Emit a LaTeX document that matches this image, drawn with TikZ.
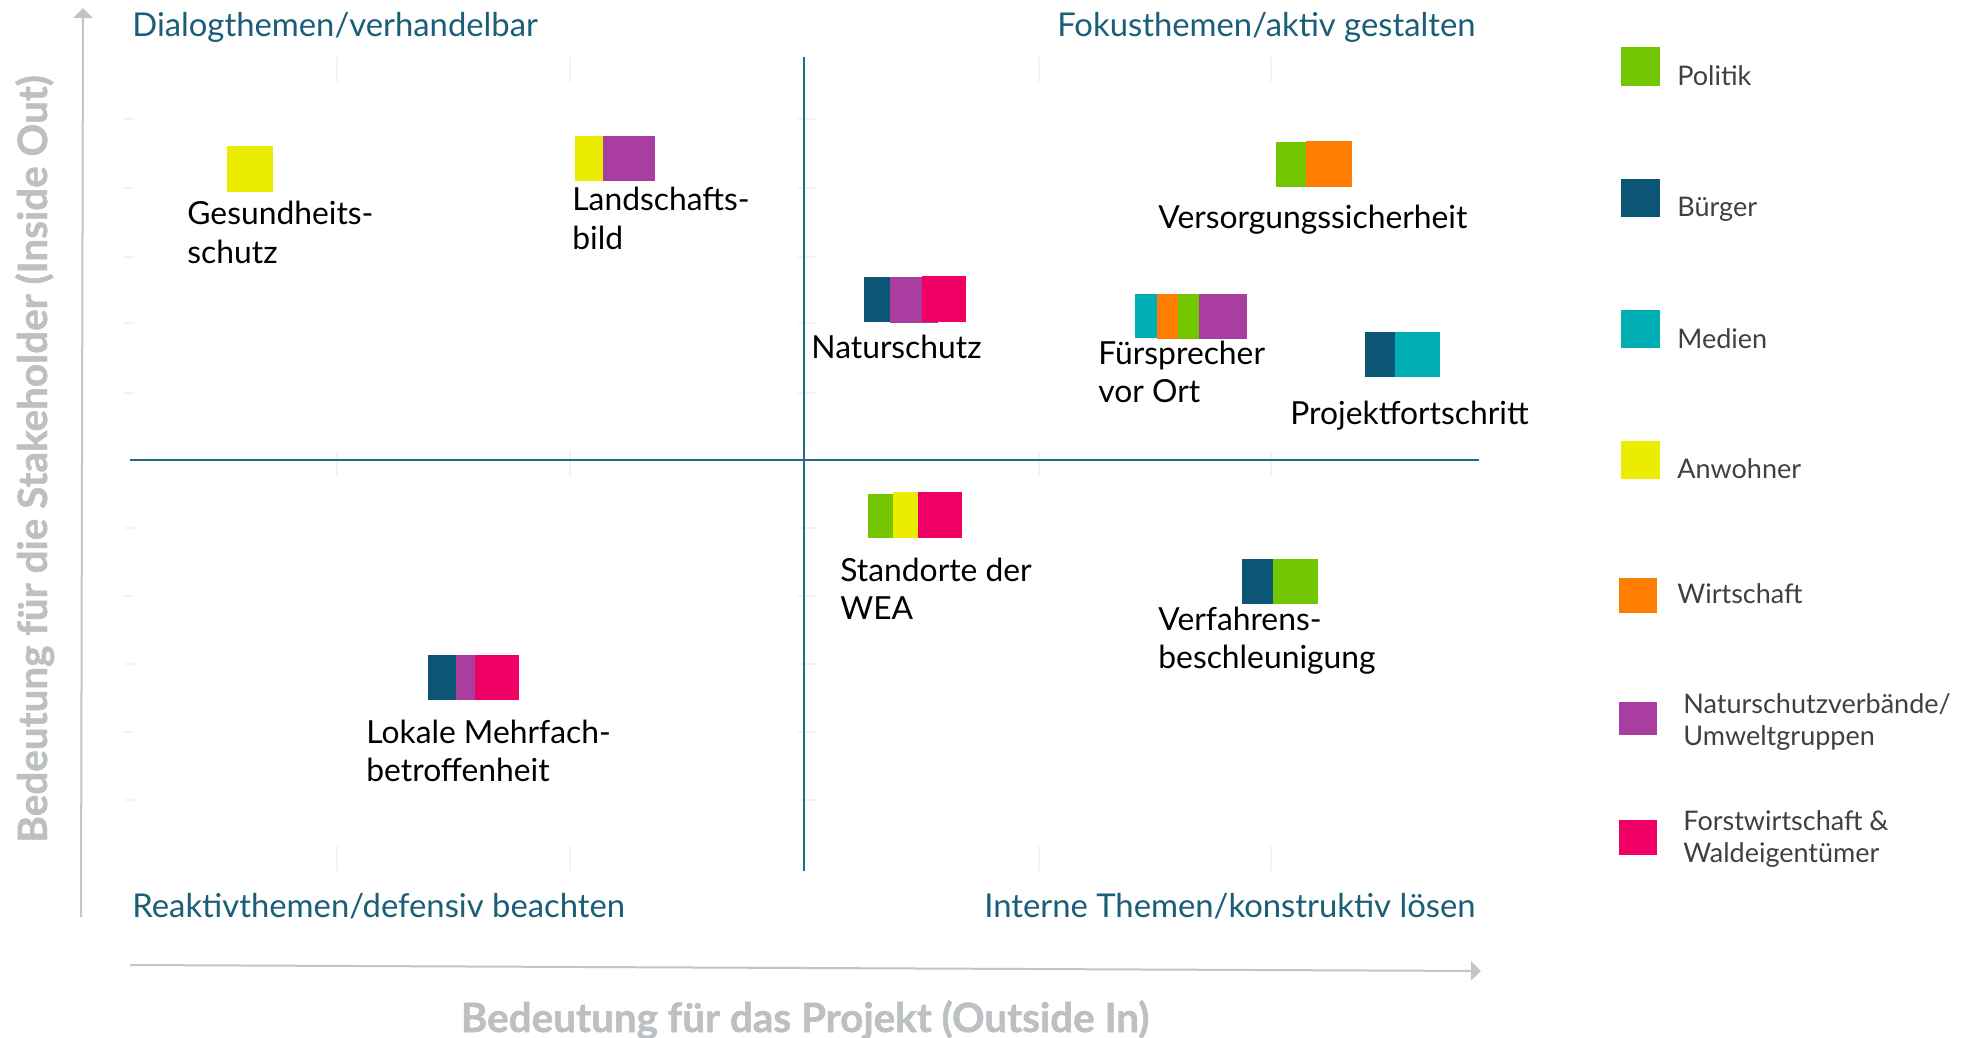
\documentclass[tikz,border=0pt]{standalone}
\usepackage{fontspec}
\setmainfont{Lato}
\newfontfamily\axfont{Lato}[BoldFeatures={FakeBold=1.2}]
\usetikzlibrary{arrows.meta}
\definecolor{cPol}{HTML}{74C700}
\definecolor{cBue}{HTML}{0B5575}
\definecolor{cMed}{HTML}{00AEB4}
\definecolor{cAnw}{HTML}{ECEC00}
\definecolor{cWir}{HTML}{FF7D00}
\definecolor{cNat}{HTML}{A93EA0}
\definecolor{cFor}{HTML}{F00065}
\definecolor{qblue}{HTML}{1A5E78}
\definecolor{lineblue}{HTML}{23698A}
\definecolor{axgray}{HTML}{C2C4C5}
\definecolor{titlegray}{HTML}{BCC0C2}
\definecolor{faintgray}{HTML}{F3F3F3}
\definecolor{legtext}{HTML}{404040}
\newcommand{\mylines}[2]{\begin{tabular}[t]{@{}l@{}}#1\\#2\end{tabular}}
\begin{document}
\begin{tikzpicture}[x=0.5pt,y=-0.5pt,
  lbl/.style={font=\fontsize{15.9}{19.3}\selectfont, anchor=base west, inner sep=0pt},
  qt/.style={font=\fontsize{16.4}{19}\selectfont, text=qblue, inner sep=0pt},
  leg/.style={font=\fontsize{13.5}{16}\selectfont, text=legtext, anchor=base west, inner sep=0pt},
  axt/.style={font=\axfont\bfseries\fontsize{20.2}{23}\selectfont, text=titlegray, inner sep=0pt},
  axline/.style={draw=axgray, line width=1pt, -{Triangle[width=9.5pt,length=5pt]}},
  qline/.style={draw=lineblue, line width=1.2pt},
  tick/.style={draw=faintgray, line width=0.8pt}
]
\useasboundingbox (0,0) rectangle (1972,1038);
\fill[white] (0,0) rectangle (1972,1038);

% faint grid ticks
\foreach \x in {337,570,1039,1271}{
  \draw[tick] (\x,57) -- (\x,82);
  \draw[tick] (\x,451) -- (\x,476);
  \draw[tick] (\x,846) -- (\x,871);
}
\foreach \y in {119,188,257,323,393,528,596,664,732,800}{
  \draw[tick] (798,\y) -- (817,\y);
  \draw[tick] (124,\y) -- (134,\y);
}

% axes
\coordinate (ybot) at (81,917);
\coordinate (ytop) at (83,8);
\coordinate (xleft) at (130,965);
\coordinate (xright) at (1481,971);
\draw[axline] (ybot) -- (ytop);
\draw[axline] (xleft) -- (xright);

% quadrant lines
\coordinate (vtop) at (804,57);
\coordinate (vbot) at (804,871);
\coordinate (hleft) at (130,460);
\coordinate (hright) at (1479,460);
\draw[qline] (vtop) -- (vbot);
\draw[qline] (hleft) -- (hright);

% axis titles
\node[axt, rotate=90, anchor=base] (ytitle) at (47,459) {Bedeutung für die Stakeholder (Inside Out)};
\node[axt, anchor=base] (xtitle) at (805,1032) {Bedeutung für das Projekt (Outside In)};

% quadrant titles
\node[qt, anchor=base west] (q1) at (132,37) {Dialogthemen/verhandelbar};
\node[qt, anchor=base east] (q2) at (1476,37) {Fokusthemen/aktiv gestalten};
\node[qt, anchor=base west] (q3) at (132,917) {Reaktivthemen/defensiv beachten};
\node[qt, anchor=base east] (q4) at (1476,917) {Interne Themen/konstruktiv lösen};

% Gesundheitsschutz
\fill[cAnw] (227,146) rectangle (273,192);
\node[lbl] (gesund) at (187,225) {\mylines{Gesundheits-}{schutz}};

% Landschaftsbild
\fill[cAnw] (575,136) rectangle (603,181);
\fill[cNat] (603,136) rectangle (655,181);
\node[lbl] (landsch) at (572,211) {\mylines{Landschafts-}{bild}};

% Versorgungssicherheit
\fill[cPol] (1276,142) rectangle (1306,187);
\fill[cWir] (1306,141) rectangle (1352,187);
\node[lbl] (versorg) at (1158,228) {Versorgungssicherheit};

% Naturschutz
\fill[cBue] (864,277) rectangle (890,322);
\fill[cNat] (890,277) rectangle (938,323);
\fill[cFor] (922,276) rectangle (966,322);
\node[lbl] (natur) at (811,358) {Naturschutz};

% Fürsprecher vor Ort
\fill[cMed] (1135,294) rectangle (1157,338);
\fill[cWir] (1157,294) rectangle (1178,339);
\fill[cPol] (1178,294) rectangle (1199,339);
\fill[cNat] (1199,294) rectangle (1247,339);
\node[lbl] (fuers) at (1098,364) {\mylines{Fürsprecher}{vor Ort}};

% Projektfortschritt
\fill[cBue] (1365,332) rectangle (1395,377);
\fill[cMed] (1395,332) rectangle (1440,377);
\node[lbl] (projekt) at (1290,424) {Projektfortschritt};

% Lokale Mehrfachbetroffenheit
\fill[cBue] (428,655) rectangle (456,700);
\fill[cNat] (456,655) rectangle (475,700);
\fill[cFor] (475,655) rectangle (519,700);
\node[lbl] (lokal) at (366,743) {\mylines{Lokale Mehrfach-}{betroffenheit}};

% Standorte der WEA
\fill[cPol] (868,494) rectangle (893,538);
\fill[cAnw] (893,492) rectangle (918,538);
\fill[cFor] (918,492) rectangle (962,538);
\node[lbl] (stand) at (840,581) {\mylines{Standorte der}{WEA}};

% Verfahrensbeschleunigung
\fill[cBue] (1242,559) rectangle (1273,604);
\fill[cPol] (1273,559) rectangle (1318,604);
\node[lbl] (verf) at (1158,630) {\mylines{Verfahrens-}{beschleunigung}};

% legend
\fill[cPol] (1621,47) rectangle (1660,86);
\node[leg] (lpol) at (1677,86) {Politik};
\fill[cBue] (1621,179) rectangle (1660,217);
\node[leg] (lbue) at (1677,217) {Bürger};
\fill[cMed] (1621,310) rectangle (1660,348);
\node[leg] (lmed) at (1677,348) {Medien};
\fill[cAnw] (1621,441) rectangle (1660,479);
\node[leg] (lanw) at (1677,478) {Anwohner};
\fill[cWir] (1619,578) rectangle (1657,613);
\node[leg] (lwir) at (1677,603) {Wirtschaft};
\fill[cNat] (1619,702) rectangle (1657,735);
\node[leg] (lnat) at (1683,713) {\mylines{Naturschutzverbände/}{Umweltgruppen}};
\fill[cFor] (1619,820) rectangle (1657,855);
\node[leg] (lfor) at (1683,830) {\mylines{Forstwirtschaft \&}{Waldeigentümer}};
\end{tikzpicture}
\end{document}
